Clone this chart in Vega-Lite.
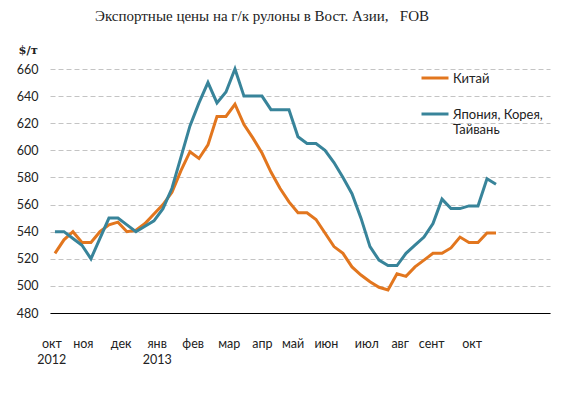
{
  "$schema": "https://vega.github.io/schema/vega-lite/v6.json",
  "autosize": "none",
  "width": 500,
  "height": 244,
  "padding": {"left": 50, "top": 69, "right": 29, "bottom": 83},
  "background": "white",
  "title": {
    "text": "Экспортные цены на г/к рулоны в Вост. Азии,\u00a0\u00a0 FOB",
    "font": "Liberation Serif",
    "fontSize": 15,
    "fontWeight": "normal",
    "color": "#222222",
    "anchor": "middle",
    "dx": -38,
    "offset": 20
  },
  "config": {
    "view": {"stroke": null},
    "font": "Lato"
  },
  "data": {
    "values": [
      {"i":0,"s":"Китай","v":524},{"i":1,"s":"Китай","v":534},{"i":2,"s":"Китай","v":540},{"i":3,"s":"Китай","v":532},{"i":4,"s":"Китай","v":532},
      {"i":5,"s":"Китай","v":540},{"i":6,"s":"Китай","v":545},{"i":7,"s":"Китай","v":547},{"i":8,"s":"Китай","v":540},{"i":9,"s":"Китай","v":541},
      {"i":10,"s":"Китай","v":546},{"i":11,"s":"Китай","v":553},{"i":12,"s":"Китай","v":560},{"i":13,"s":"Китай","v":569},{"i":14,"s":"Китай","v":585},
      {"i":15,"s":"Китай","v":599},{"i":16,"s":"Китай","v":594},{"i":17,"s":"Китай","v":604},{"i":18,"s":"Китай","v":625},{"i":19,"s":"Китай","v":625},
      {"i":20,"s":"Китай","v":634},{"i":21,"s":"Китай","v":619},{"i":22,"s":"Китай","v":609},{"i":23,"s":"Китай","v":598},{"i":24,"s":"Китай","v":584},
      {"i":25,"s":"Китай","v":572},{"i":26,"s":"Китай","v":562},{"i":27,"s":"Китай","v":554},{"i":28,"s":"Китай","v":554},{"i":29,"s":"Китай","v":549},
      {"i":30,"s":"Китай","v":539},{"i":31,"s":"Китай","v":529},{"i":32,"s":"Китай","v":524},{"i":33,"s":"Китай","v":514},{"i":34,"s":"Китай","v":508},
      {"i":35,"s":"Китай","v":503},{"i":36,"s":"Китай","v":499},{"i":37,"s":"Китай","v":497},{"i":38,"s":"Китай","v":509},{"i":39,"s":"Китай","v":507},
      {"i":40,"s":"Китай","v":514},{"i":41,"s":"Китай","v":519},{"i":42,"s":"Китай","v":524},{"i":43,"s":"Китай","v":524},{"i":44,"s":"Китай","v":528},
      {"i":45,"s":"Китай","v":536},{"i":46,"s":"Китай","v":532},{"i":47,"s":"Китай","v":532},{"i":48,"s":"Китай","v":539},{"i":49,"s":"Китай","v":539},
      {"i":0,"s":"Япония, Корея, Тайвань","v":540},{"i":1,"s":"Япония, Корея, Тайвань","v":540},{"i":2,"s":"Япония, Корея, Тайвань","v":535},{"i":3,"s":"Япония, Корея, Тайвань","v":530},{"i":4,"s":"Япония, Корея, Тайвань","v":520},
      {"i":5,"s":"Япония, Корея, Тайвань","v":535},{"i":6,"s":"Япония, Корея, Тайвань","v":550},{"i":7,"s":"Япония, Корея, Тайвань","v":550},{"i":8,"s":"Япония, Корея, Тайвань","v":545},{"i":9,"s":"Япония, Корея, Тайвань","v":540},
      {"i":10,"s":"Япония, Корея, Тайвань","v":544},{"i":11,"s":"Япония, Корея, Тайвань","v":548},{"i":12,"s":"Япония, Корея, Тайвань","v":557},{"i":13,"s":"Япония, Корея, Тайвань","v":572},{"i":14,"s":"Япония, Корея, Тайвань","v":595},
      {"i":15,"s":"Япония, Корея, Тайвань","v":618},{"i":16,"s":"Япония, Корея, Тайвань","v":635},{"i":17,"s":"Япония, Корея, Тайвань","v":650},{"i":18,"s":"Япония, Корея, Тайвань","v":635},{"i":19,"s":"Япония, Корея, Тайвань","v":643},
      {"i":20,"s":"Япония, Корея, Тайвань","v":660},{"i":21,"s":"Япония, Корея, Тайвань","v":640},{"i":22,"s":"Япония, Корея, Тайвань","v":640},{"i":23,"s":"Япония, Корея, Тайвань","v":640},{"i":24,"s":"Япония, Корея, Тайвань","v":630},
      {"i":25,"s":"Япония, Корея, Тайвань","v":630},{"i":26,"s":"Япония, Корея, Тайвань","v":630},{"i":27,"s":"Япония, Корея, Тайвань","v":610},{"i":28,"s":"Япония, Корея, Тайвань","v":605},{"i":29,"s":"Япония, Корея, Тайвань","v":605},
      {"i":30,"s":"Япония, Корея, Тайвань","v":600},{"i":31,"s":"Япония, Корея, Тайвань","v":591},{"i":32,"s":"Япония, Корея, Тайвань","v":580},{"i":33,"s":"Япония, Корея, Тайвань","v":568},{"i":34,"s":"Япония, Корея, Тайвань","v":550},
      {"i":35,"s":"Япония, Корея, Тайвань","v":529},{"i":36,"s":"Япония, Корея, Тайвань","v":519},{"i":37,"s":"Япония, Корея, Тайвань","v":515},{"i":38,"s":"Япония, Корея, Тайвань","v":515},{"i":39,"s":"Япония, Корея, Тайвань","v":524},
      {"i":40,"s":"Япония, Корея, Тайвань","v":530},{"i":41,"s":"Япония, Корея, Тайвань","v":536},{"i":42,"s":"Япония, Корея, Тайвань","v":546},{"i":43,"s":"Япония, Корея, Тайвань","v":564},{"i":44,"s":"Япония, Корея, Тайвань","v":557},
      {"i":45,"s":"Япония, Корея, Тайвань","v":557},{"i":46,"s":"Япония, Корея, Тайвань","v":559},{"i":47,"s":"Япония, Корея, Тайвань","v":559},{"i":48,"s":"Япония, Корея, Тайвань","v":579},{"i":49,"s":"Япония, Корея, Тайвань","v":575}
    ]
  },
  "mark": {"type": "line", "strokeWidth": 3, "strokeJoin": "miter"},
  "encoding": {
    "x": {
      "field": "i",
      "type": "quantitative",
      "scale": {"domain": [-0.55, 55], "nice": false, "zero": false},
      "axis": {
        "title": null,
        "grid": false,
        "ticks": false,
        "domainColor": "#000000",
        "domainWidth": 1.2,
        "values": [-0.4, 3.1, 7.3, 11.3, 15.3, 19.3, 23, 26.4, 30.1, 34.6, 38.3, 41.8, 46.3],
        "labelExpr": "datum.value < 0 ? ['окт', '2012'] : datum.value < 4 ? 'ноя' : datum.value < 8 ? 'дек' : datum.value < 12 ? ['янв', '2013'] : datum.value < 16 ? 'фев' : datum.value < 20 ? 'мар' : datum.value < 24 ? 'апр' : datum.value < 27 ? 'май' : datum.value < 31 ? 'июн' : datum.value < 35 ? 'июл' : datum.value < 39 ? 'авг' : datum.value < 42 ? 'сент' : 'окт'",
        "labelFont": "Lato",
        "labelFontSize": 12.5,
        "labelColor": "#222222",
        "labelPadding": 24,
        "labelLineHeight": 16,
        "labelOverlap": false,
        "labelFlush": false
      }
    },
    "y": {
      "field": "v",
      "type": "quantitative",
      "scale": {"domain": [480, 660], "nice": false, "zero": false},
      "axis": {
        "values": [480, 500, 520, 540, 560, 580, 600, 620, 640, 660],
        "domain": false,
        "ticks": false,
        "gridColor": "#C4C4C4",
        "gridDash": [5, 3],
        "gridWidth": 1,
        "labelFont": "Lato",
        "labelFontSize": 12.5,
        "labelColor": "#222222",
        "labelPadding": 12,
        "title": "$/т",
        "titleAngle": 0,
        "titleX": -32,
        "titleY": -16,
        "titleAlign": "left",
        "titleBaseline": "alphabetic",
        "titleFont": "DejaVu Serif",
        "titleFontSize": 11.5,
        "titleFontWeight": "bold",
        "titleColor": "#222222"
      }
    },
    "color": {
      "field": "s",
      "type": "nominal",
      "scale": {"domain": ["Китай", "Япония, Корея, Тайвань"], "range": ["#E2761E", "#38849A"]},
      "legend": {
        "title": null,
        "orient": "none",
        "legendX": 370,
        "legendY": -6,
        "symbolType": "stroke",
        "symbolSize": 729,
        "symbolStrokeWidth": 3,
        "labelFont": "Lato",
        "labelFontSize": 13,
        "labelColor": "#222222",
        "labelOffset": 3,
        "labelLimit": 200,
        "labelLineHeight": 18,
        "labelBaseline": "alphabetic",
        "rowPadding": 13,
        "labelExpr": "datum.label == 'Китай' ? 'Китай' : ['Япония, Корея,', 'Тайвань']",
        "encode": {
          "labels": {"update": {"dy": {"value": 4.5}}}
        }
      }
    }
  }
}
